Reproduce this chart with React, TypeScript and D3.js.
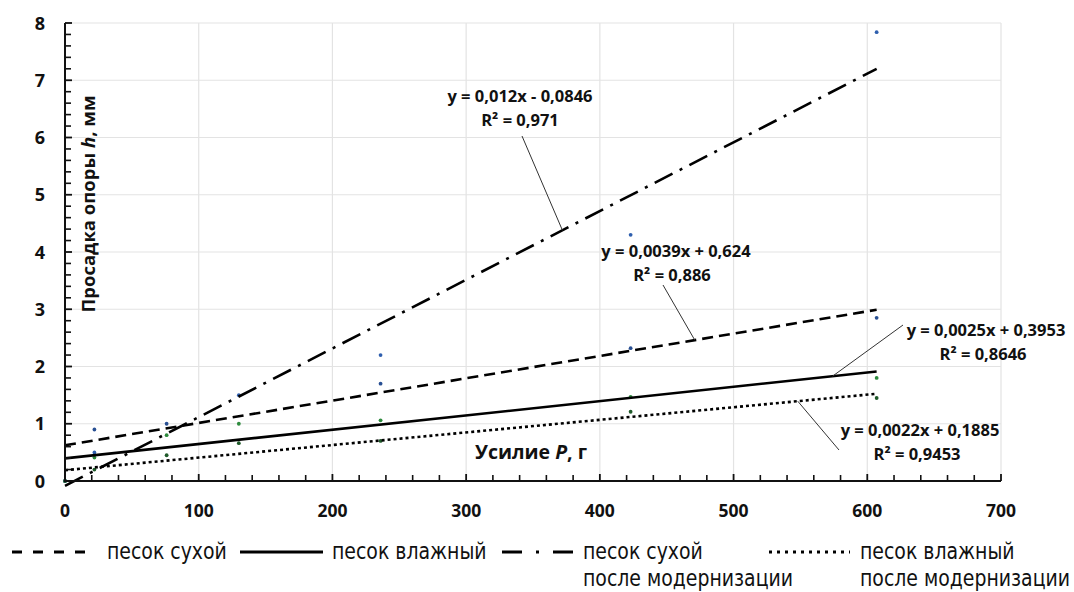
import React from 'react';
import * as d3 from 'd3';

// ---- data ----
const loads = [0, 22, 76, 130, 236, 423, 607];
const dryValues = [null, 0.9, 1.0, null, 1.7, 2.32, 2.85];
const wetValues = [0, 0.41, 0.8, 1.0, 1.06, 1.47, 1.8];
const dryModValues = [0, 0.5, null, 1.5, 2.2, 4.3, 7.84];
const wetModValues = [0, 0.2, 0.45, 0.66, 0.7, 1.21, 1.45];

const seriesNames = ['песок сухой', 'песок влажный', 'песок сухой', 'песок влажный'];
const seriesNotes = ['', '', 'после модернизации', 'после модернизации'];
const slopes = [0.0039, 0.0025, 0.012, 0.0022];
const intercepts = [0.624, 0.3953, -0.0846, 0.1885];
const equationTexts = ['y = 0,0039x + 0,624', 'y = 0,0025x + 0,3953', 'y = 0,012x - 0,0846', 'y = 0,0022x + 0,1885'];
const r2Texts = ['R² = 0,886', 'R² = 0,8646', 'R² = 0,971', 'R² = 0,9453'];
const leaderAt = [471, 574, 372, 548];

const xTicks = [0, 100, 200, 300, 400, 500, 600, 700];
const yTicks = [0, 1, 2, 3, 4, 5, 6, 7, 8];

// ---- styles / layout ----
const W = 1074;
const H = 592;
const X0 = 65, X1 = 1001, Y0 = 481, Y1 = 23;
const FONT = "'Open Sans', 'Noto Sans', sans-serif";
const LFONT = "'DejaVu Sans Condensed', 'DejaVu Sans', sans-serif";
const dashes = ['11,6', '', '20,8,3,8', '3,3'];
const legendDashes = ['10,11', '', '20,14,3,14', '3,5'];
const dotColors = ['#284f93', '#2e8b3e', '#2f5fae', '#1f5a2a'];
const labelPos = [
  { x: 676, y: 257, rx: 672, leader: [663, 285] },
  { x: 986, y: 336, rx: 983, leader: [903, 325] },
  { x: 520, y: 102, rx: 520, leader: [522, 136] },
  { x: 920, y: 436, rx: 917, leader: [839, 450] },
];
const legendItems = [
  { lx: 12, len: 73, tx: 107 },
  { lx: 240, len: 83, tx: 332 },
  { lx: 502, len: 72, tx: 583 },
  { lx: 769, len: 81, tx: 860 },
];

export default function App() {
  const x = d3.scaleLinear().domain([0, 700]).range([X0, X1]);
  const y = d3.scaleLinear().domain([0, 8]).range([Y0, Y1]);
  const allValues = [dryValues, wetValues, dryModValues, wetModValues];
  const xMax = d3.max(loads) as number;

  const minorX = d3.range(0, 701, 20).filter((v) => v % 100 !== 0);
  const minorY = d3.range(0, 8.01, 0.2).map((v) => Math.round(v * 10) / 10).filter((v) => Math.abs(v - Math.round(v)) > 1e-6);

  return (
    <svg width={W} height={H} style={{ position: 'absolute', left: 0, top: 0, background: '#fff' }}>
      <rect x={0} y={0} width={W} height={H} fill="#fff" />
      {/* gridlines */}
      {xTicks.filter((t) => t > 0).map((t) => (
        <line key={'gx' + t} x1={x(t)} x2={x(t)} y1={y(8)} y2={y(0)} stroke="#e3e3e3" strokeWidth={1.2} />
      ))}
      {yTicks.filter((t) => t > 0).map((t) => (
        <line key={'gy' + t} x1={x(0)} x2={x(700)} y1={y(t)} y2={y(t)} stroke="#e3e3e3" strokeWidth={1.2} />
      ))}

      {/* points */}
      {allValues.map((vals, si) =>
        vals.map((v, i) =>
          v == null ? null : (
            <circle key={`p${si}-${i}`} cx={x(loads[i])} cy={y(v)} r={1.9} fill={dotColors[si]} />
          )
        )
      )}

      {/* trend lines */}
      {slopes.map((s, si) => {
        const f = (v: number) => s * v + intercepts[si];
        const d = d3.line<number>().x((v) => x(v)).y((v) => y(f(v)))([0, xMax]) as string;
        return (
          <path key={'t' + si} d={d} fill="none" stroke="#000" strokeWidth={2.6}
            strokeDasharray={dashes[si] || undefined} />
        );
      })}

      {/* axes */}
      <line x1={x(0)} x2={x(0)} y1={y(8)} y2={y(0)} stroke="#111" strokeWidth={2} />
      <line x1={x(0) - 1} x2={x(700)} y1={y(0)} y2={y(0)} stroke="#111" strokeWidth={2} />
      {yTicks.map((t) => (
        <line key={'ty' + t} x1={x(0)} x2={x(0) + 7} y1={y(t)} y2={y(t)} stroke="#111" strokeWidth={1.8} />
      ))}
      {minorY.map((t) => (
        <line key={'mty' + t} x1={x(0)} x2={x(0) + 6} y1={y(t)} y2={y(t)} stroke="#111" strokeWidth={1.6} />
      ))}
      {xTicks.map((t) => (
        <line key={'tx' + t} x1={x(t)} x2={x(t)} y1={y(0)} y2={y(0) - 7} stroke="#111" strokeWidth={1.8} />
      ))}
      {minorX.map((t) => (
        <line key={'mtx' + t} x1={x(t)} x2={x(t)} y1={y(0)} y2={y(0) - 6} stroke="#111" strokeWidth={1.6} />
      ))}

      {/* tick labels */}
      {yTicks.map((t) => (
        <text key={'ly' + t} x={45} y={y(t) + 6.5} textAnchor="end" fontFamily={FONT} fontWeight="bold" fontSize={18} fill="#111">{t}</text>
      ))}
      {xTicks.map((t) => (
        <text key={'lx' + t} x={x(t)} y={517} textAnchor="middle" fontFamily={FONT} fontWeight="bold" fontSize={17.5} fill="#111">{t}</text>
      ))}

      {/* axis titles */}
      <text x={531} y={459} textAnchor="middle" fontFamily={FONT} fontWeight="bold" fontSize={19.5} fill="#111">
        Усилие <tspan fontStyle="italic">P</tspan>, г
      </text>
      <text transform="translate(95,204) rotate(-90)" textAnchor="middle" fontFamily={FONT} fontWeight="bold" fontSize={18.5} fill="#111">
        Просадка опоры <tspan fontStyle="italic">h</tspan>, мм
      </text>

      {/* equation labels */}
      {labelPos.map((p, si) => {
        const tx = leaderAt[si];
        const ty = slopes[si] * tx + intercepts[si];
        return (
          <g key={'eq' + si}>
            <line x1={p.leader[0]} y1={p.leader[1]} x2={x(tx)} y2={y(ty)} stroke="#333" strokeWidth={1} />
            <text x={p.x} y={p.y} textAnchor="middle" fontFamily={FONT} fontWeight="bold" fontSize={16.5} fill="#111">{equationTexts[si]}</text>
            <text x={p.rx} y={p.y + 23.5} textAnchor="middle" fontFamily={FONT} fontWeight="bold" fontSize={16.5} fill="#111">{r2Texts[si]}</text>
          </g>
        );
      })}

      {/* legend */}
      {legendItems.map((it, si) => (
        <g key={'lg' + si}>
          <line x1={it.lx} x2={it.lx + it.len} y1={552} y2={552} stroke="#000" strokeWidth={3}
            strokeDasharray={legendDashes[si] || undefined} />
          <text transform={`translate(${it.tx},559) scale(1,1.1)`} fontFamily={LFONT} fontSize={21} fill="#111">{seriesNames[si]}</text>
          {seriesNotes[si] ? (
            <text transform={`translate(${it.tx},586) scale(1,1.1)`} fontFamily={LFONT} fontSize={21} fill="#111">{seriesNotes[si]}</text>
          ) : null}
        </g>
      ))}
    </svg>
  );
}
